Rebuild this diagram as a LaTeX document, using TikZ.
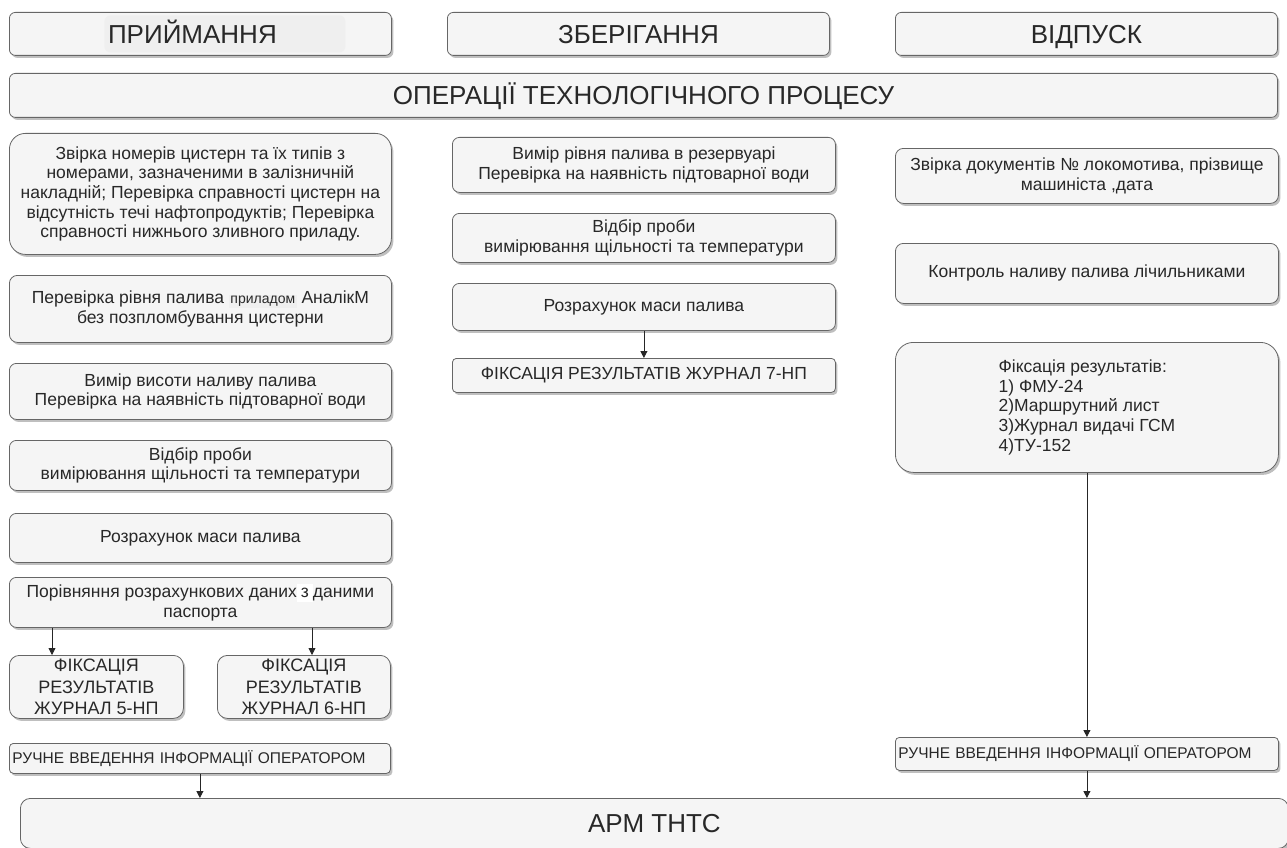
\documentclass[tikz,border=0pt]{standalone}
\usepackage{fontspec}
\setmainfont{Liberation Sans}
\usetikzlibrary{arrows.meta,shadows}
\newcommand{\hlword}[1]{{\setlength{\fboxsep}{1.5pt}\colorbox{hlgray}{\fontsize{14}{16}\selectfont #1}}}
\newcommand{\whword}[1]{{\setlength{\fboxsep}{4pt}\colorbox{white}{#1}}}
\begin{document}
\begin{tikzpicture}[x=1pt,y=-1pt,
    box/.style={draw=boxline, fill=boxfill, line width=0.8pt, rounded corners=#1,
      text=boxtext, align=center, inner sep=0pt, anchor=north west,
      font=\fontsize{17.5}{19.7}\selectfont,
      drop shadow={shadow xshift=2pt, shadow yshift=-2.5pt, fill=black, opacity=0.25}},
    box/.default=6pt,
    hdr/.style={box, font=\fontsize{26}{30}\selectfont, text height=19pt, text depth=0pt},
    fixbox/.style={box=10pt, font=\fontsize{18}{21.5}\selectfont},
    manbox/.style={box=4pt, align=left, inner xsep=3pt, font=\fontsize{15.5}{19}\selectfont},
    arr/.style={-{Triangle[length=7pt,width=7pt]}, draw=black!85, line width=0.8pt}]
    % Define colors
    \definecolor{boxfill}{RGB}{245,245,245}
    \definecolor{boxline}{RGB}{102,102,102}
    \definecolor{boxtext}{RGB}{40,40,40}
    \definecolor{hlgray}{RGB}{239,239,239}

    \useasboundingbox (0,0) rectangle (1287,848);

    % Draw the stage headers
    \node[hdr, minimum width=382pt, minimum height=43pt,
      path picture={\fill[hlgray] ([xshift=-96pt,yshift=-18.5pt]path picture bounding box.center) rectangle ++(241pt,37pt);}]
      (hPriy) at (9,12) {ПРИЙМАННЯ\kern16pt};
    \node[hdr, minimum width=382pt, minimum height=43pt] (hZber) at (447,12) {ЗБЕРІГАННЯ};
    \node[hdr, minimum width=382pt, minimum height=43pt] (hVid) at (895,12) {ВІДПУСК};
    \node[hdr, minimum width=1268pt, minimum height=44pt] (hOper) at (9,73) {ОПЕРАЦІЇ ТЕХНОЛОГІЧНОГО ПРОЦЕСУ};

    % Draw the receiving column
    \node[box=16pt, minimum width=382pt, minimum height=121pt] (l1) at (9,133)
      {Звірка номерів цистерн та їх типів з\\ номерами, зазначеними в залізничній\\ накладній; Перевірка справності цистерн на\\ відсутність течі нафтопродуктів; Перевірка\\ справності нижнього зливного приладу.};
    \node[box=8pt, minimum width=382pt, minimum height=67pt] (l2) at (9,275)
      {Перевірка рівня палива \hlword{приладом}\ АналікМ\\ без позпломбування цистерни};
    \node[box=7pt, minimum width=382pt, minimum height=56pt] (l3) at (9,363)
      {Вимір висоти наливу палива\\ Перевірка на наявність підтоварної води};
    \node[box=7pt, minimum width=382pt, minimum height=50pt] (l4) at (9,440)
      {Відбір проби\\ вимірювання щільності та температури};
    \node[box=7pt, minimum width=382pt, minimum height=49pt] (l5) at (9,513) {Розрахунок маси палива};
    \node[box=7pt, minimum width=382pt, minimum height=50pt] (l6) at (9,577)
      {Порівняння розрахункових даних\whword{з}даними\\ паспорта};
    \node[fixbox, minimum width=174pt, minimum height=63pt] (l7) at (9,655)
      {ФІКСАЦІЯ\\ РЕЗУЛЬТАТІВ\\ ЖУРНАЛ 5-НП};
    \node[fixbox, minimum width=173pt, minimum height=63pt] (l8) at (217,655)
      {ФІКСАЦІЯ\\ РЕЗУЛЬТАТІВ\\ ЖУРНАЛ 6-НП};
    \node[manbox, text width=375pt, minimum height=30pt] (l9) at (9,743)
      {РУЧНЕ ВВЕДЕННЯ ІНФОРМАЦІЇ ОПЕРАТОРОМ};

    % Draw the storage column
    \node[box=7pt, minimum width=383pt, minimum height=55pt] (m1) at (452,137)
      {Вимір рівня палива в резервуарі\\ Перевірка на наявність підтоварної води};
    \node[box=7pt, minimum width=383pt, minimum height=49pt] (m2) at (452,213)
      {Відбір проби\\ вимірювання щільності та температури};
    \node[box=7pt, minimum width=383pt, minimum height=47pt] (m3) at (452,283) {Розрахунок маси палива};
    \node[box=4pt, minimum width=383pt, minimum height=34pt] (m4) at (452,358)
      {ФІКСАЦІЯ РЕЗУЛЬТАТІВ ЖУРНАЛ 7-НП};

    % Draw the dispensing column
    \node[box=8pt, minimum width=383pt, minimum height=55pt] (r1) at (895,148)
      {Звірка документів № локомотива, прізвище\\ машиніста ,дата};
    \node[box=8pt, minimum width=383pt, minimum height=60pt] (r2) at (895,243)
      {Контроль наливу палива лічильниками};
    \node[box=18pt, align=left, minimum width=383pt, minimum height=130pt] (r3) at (895,342)
      {Фіксація результатів:\\ 1) ФМУ-24\\ 2)Маршрутний лист\\ 3)Журнал видачі ГСМ\\ 4)ТУ-152};
    \node[manbox, text width=377pt, minimum height=33pt] (r4) at (895,737)
      {РУЧНЕ ВВЕДЕННЯ ІНФОРМАЦІЇ ОПЕРАТОРОМ};

    % Draw the workstation
    \node[hdr, rounded corners=10pt, minimum width=1268pt, minimum height=50pt] (bArm) at (20,798) {АРМ ТНТС};

    % Draw the arrows
    \draw[arr] ([xshift=43pt]l7.north west |- l6.south) -- ([xshift=43pt]l7.north west);
    \draw[arr] ([xshift=95pt]l8.north west |- l6.south) -- ([xshift=95pt]l8.north west);
    \draw[arr] (l9.south) -- (l9.south |- bArm.north);
    \draw[arr] (m3.south) -- (m4.north);
    \draw[arr] (r3.south) -- (r4.north);
    \draw[arr] (r4.south) -- (r4.south |- bArm.north);
\end{tikzpicture}
\end{document}
